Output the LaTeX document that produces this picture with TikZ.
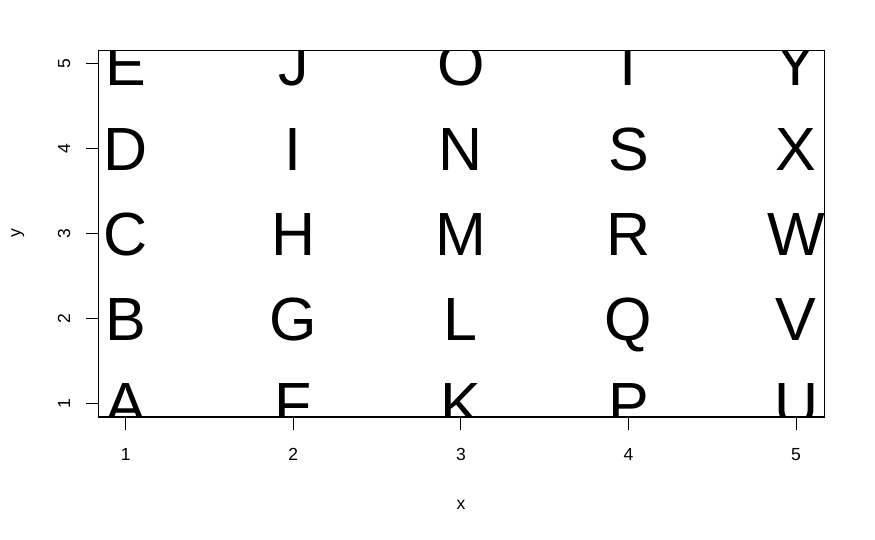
\documentclass[tikz,border=0pt]{standalone}
\usepackage{fontspec}
\setmainfont{Liberation Sans}
\begin{document}
\begin{tikzpicture}[x=1pt,y=-1pt,
  bigletter/.style={anchor=base,inner sep=0pt,font=\fontsize{61}{61}\selectfont},
  ticklab/.style={anchor=base,inner sep=0pt,font=\fontsize{17.5}{17.5}\selectfont},
  axline/.style={line width=1.1pt}]
\useasboundingbox (0,0) rectangle (875,540);
\begin{scope}
\clip (98.3,50.3) rectangle (824.3,417);
\foreach \L [count=\k from 0] in {A,B,C,D,E,F,G,H,I,J,K,L,M,N,O,P,Q,R,S,T,U,V,W,X,Y}{
  \pgfmathsetmacro{\cx}{125.7+int(\k/5)*167.6}
  \pgfmathsetmacro{\cy}{403.3-mod(\k,5)*85+22.5}
  \node[bigletter] (l\L) at (\cx,\cy) {\L};
}
\end{scope}
\draw[axline] (98.3,50.3) rectangle (824.3,417);
\foreach \i in {1,...,5}{
  \pgfmathsetmacro{\cx}{125.7+(\i-1)*167.6}
  \pgfmathsetmacro{\cy}{403.3-(\i-1)*85}
  \draw[axline] (\cx,417) -- (\cx,430);
  \node[ticklab] (xt\i) at (\cx,460.7) {\i};
  \draw[axline] (86,\cy) -- (98.3,\cy);
  \node[ticklab,rotate=90] (yt\i) at (70,\cy) {\i};
}
\node[ticklab] (xlab) at (461,509) {x};
\node[ticklab,rotate=90] (ylab) at (20.5,233.3) {y};
\end{tikzpicture}
\end{document}
